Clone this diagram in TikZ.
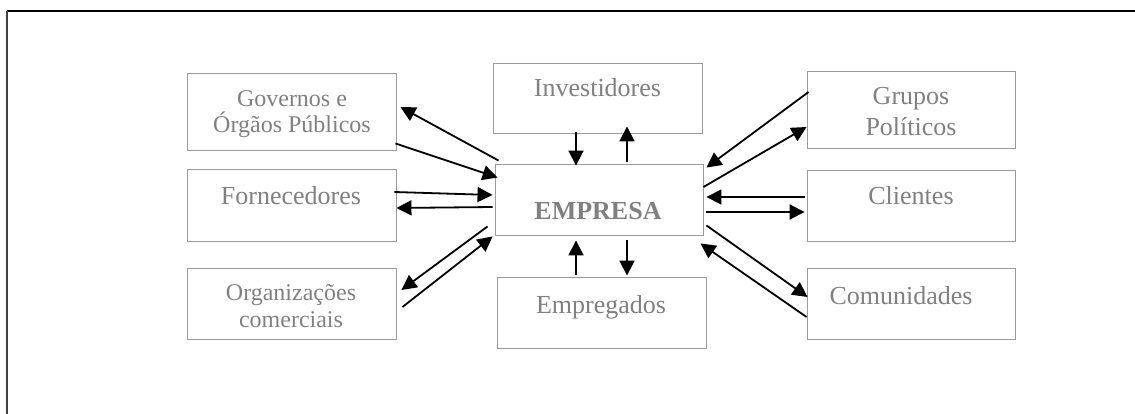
\documentclass[tikz,border=0pt]{standalone}
\usepackage{fontspec}
\setmainfont{Liberation Serif}
\usetikzlibrary{arrows.meta}
\definecolor{boxgray}{RGB}{155,155,155}
\definecolor{txtgray}{RGB}{128,128,128}
\tikzset{
  box/.style={draw=boxgray, line width=0.9pt, rectangle, inner sep=0pt},
  lbl/.style={text=txtgray, inner sep=0pt, font=\fontsize{26}{31}\selectfont},
  lblsmall/.style={text=txtgray, inner sep=0pt, align=center, font=\fontsize{24}{26}\selectfont},
  arr/.style={line width=1.8pt, -{Triangle[length=15pt,width=15pt]}}
}
\begin{document}
\begin{tikzpicture}[x=1pt,y=-1pt]
\useasboundingbox (0,0) rectangle (1135,414);
% frame
\coordinate (fr1) at (1135,11);
\coordinate (fr2) at (7,11);
\coordinate (fr3) at (7,414);
\draw[line width=1.4pt] (fr1) -- (fr2);
\draw[line width=2pt, draw=black!75] (fr2) -- (fr3);
% boxes
\node[box, minimum width=209pt, minimum height=77pt] (gov) at (291.5,111.5) {};
\node[box, minimum width=209pt, minimum height=72pt] (forn) at (291.5,205) {};
\node[box, minimum width=209pt, minimum height=71pt] (org) at (291.5,303.5) {};
\node[box, minimum width=209pt, minimum height=70pt] (inv) at (597.5,98) {};
\node[box, minimum width=208pt, minimum height=71pt] (emp) at (599,199.5) {};
\node[box, minimum width=209pt, minimum height=71pt] (empr) at (601.5,312.5) {};
\node[box, minimum width=208pt, minimum height=77pt] (grp) at (911,109.5) {};
\node[box, minimum width=208pt, minimum height=71pt] (cli) at (911,205.5) {};
\node[box, minimum width=208pt, minimum height=71pt] (com) at (911,303.5) {};
% texts
\node[lblsmall] (govt) at (292,114.5) {Governos e\\Órgãos Públicos};
\node[lbl, anchor=base] (fornt) at (291,205) {Fornecedores};
\node[lblsmall, align=center, font=\fontsize{24}{27}\selectfont] (orgt) at (291,306.5) {Organizações\\comerciais};
\node[lbl, anchor=base] (invt) at (597.5,97) {Investidores};
\node[lbl, anchor=base, font=\fontsize{26}{31}\selectfont\bfseries] (empt) at (598,219) {EMPRESA};
\node[lbl, anchor=base] (emprt) at (601,313) {Empregados};
\node[lbl, align=center] (grpt) at (911,112) {Grupos\\Políticos};
\node[lbl, anchor=base] (clit) at (911,205) {Clientes};
\node[lbl, anchor=base] (comt) at (901,304) {Comunidades};
% arrows left
\draw[arr] ([xshift=4pt,yshift=3pt]emp.north west) -- ([xshift=4pt,yshift=4.5pt]gov.east);
\draw[arr] ([xshift=-1pt,yshift=7pt]gov.south east) -- ([xshift=3pt,yshift=-14pt]emp.north west);
\draw[arr] ([xshift=-2pt,yshift=13pt]forn.east) -- ([xshift=-2pt,yshift=4.5pt]emp.west);
\draw[arr] ([xshift=-2pt,yshift=-7.5pt]emp.west) -- ([yshift=-3pt]forn.east);
\draw[arr] ([xshift=-7pt,yshift=9pt]emp.south west) -- ([xshift=5pt,yshift=13.5pt]org.east);
\draw[arr] ([xshift=6pt,yshift=-3.5pt]org.east) -- ([xshift=-2pt,yshift=-1pt]emp.south west);
% arrows vertical
\draw[arr] ([xshift=-21.5pt,yshift=1pt]inv.south) -- ([xshift=-23pt,yshift=-2pt]emp.north);
\draw[arr] ([xshift=28pt,yshift=2pt]emp.north) -- ([xshift=29.5pt,yshift=7pt]inv.south);
\draw[arr] ([xshift=-25.5pt,yshift=2pt]empr.north) -- ([xshift=-23pt,yshift=-5pt]emp.south);
\draw[arr] ([xshift=28pt,yshift=-5pt]emp.south) -- ([xshift=25.5pt,yshift=1pt]empr.north);
% arrows right
\draw[arr] ([xshift=2pt,yshift=17.5pt]grp.west) -- ([xshift=3pt,yshift=-4pt]emp.north east);
\draw[arr] ([yshift=12.5pt]emp.east) -- ([yshift=-17.5pt]grp.west);
\draw[arr] ([xshift=-2pt,yshift=8.5pt]cli.west) -- ([xshift=3pt,yshift=2.5pt]emp.east);
\draw[arr] ([xshift=3pt,yshift=-12.5pt]emp.east) -- ([xshift=-2pt,yshift=-6.5pt]cli.west);
\draw[arr] ([xshift=3pt,yshift=10pt]emp.south east) -- ([xshift=1pt,yshift=6.5pt]com.west);
\draw[arr] ([yshift=-13.5pt]com.west) -- ([xshift=-3pt,yshift=-8pt]emp.south east);
\end{tikzpicture}
\end{document}
